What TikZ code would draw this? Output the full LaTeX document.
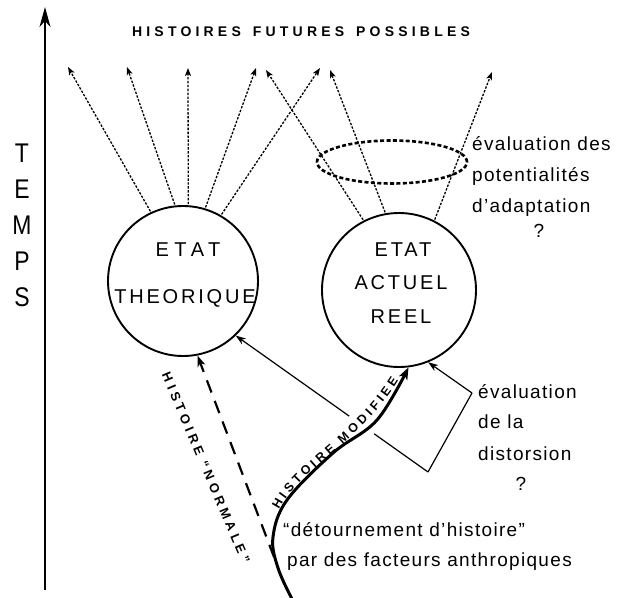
\documentclass[tikz,border=0pt]{standalone}
\usepackage{fontspec}
\setmainfont{Liberation Sans}
\newfontfamily\bodyfont[LetterSpace=7]{Liberation Sans}
\newfontfamily\capfont[LetterSpace=14]{Liberation Sans}
\newfontfamily\widecapfont[LetterSpace=28]{Liberation Sans}
\newfontfamily\titlefont[LetterSpace=30]{Liberation Sans}
\newfontfamily\pathfont[LetterSpace=30]{Liberation Sans}
\usetikzlibrary{arrows.meta,calc,shapes.geometric,decorations.text}

\begin{document}
\begin{tikzpicture}[x=1pt,y=-1pt,
  statecircle/.style={circle, draw, line width=1.9pt, inner sep=0pt},
  futurearrow/.style={line width=1.3pt, dash pattern=on 2.4pt off 1.5pt,
    shorten <=1pt, -{Stealth[length=8pt,width=6pt,inset=2pt]}},
  thinlink/.style={line width=1.2pt},
  thinarrow/.style={line width=1.2pt, -{Stealth[length=10pt,width=7pt,inset=3pt]}},
  normalpath/.style={line width=2.2pt, dash pattern=on 13pt off 9pt,
    -{Stealth[length=11pt,width=8pt,inset=3pt]}},
  modifpath/.style={line width=3pt, line cap=round,
    -{Stealth[length=12pt,width=9pt,inset=3pt]}},
  captext/.style={font=\capfont\fontsize{20}{20}\selectfont, inner sep=0pt},
  bodytext/.style={font=\bodyfont\fontsize{19}{19}\selectfont, inner sep=0pt, anchor=base west},
  bodyq/.style={font=\bodyfont\fontsize{19}{19}\selectfont, inner sep=0pt, anchor=base},
  titletext/.style={font=\titlefont\bfseries\fontsize{14}{14}\selectfont, inner sep=0pt}
]
\useasboundingbox[fill=white] (0,0) rectangle (625,598);

% time axis
\coordinate (axisbot) at (45,590);
\coordinate (axistop) at (45,7);
\draw[line width=1.5pt, -{Stealth[length=20pt,width=11pt,inset=6pt]}] (axisbot) -- (axistop);
\node[font=\fontsize{27}{36}\selectfont, align=center, xscale=0.85, inner sep=0pt] (temps) at (22,225) {T\\E\\M\\P\\S};

% title
\node[titletext] (hist) at (301,32) {HISTOIRES\hspace{12pt}FUTURES\hspace{12pt}POSSIBLES};

% the two states
\node[statecircle, minimum size=150pt] (theo) at (183,281) {};
\node[statecircle, minimum size=154pt] (reel) at (399,290) {};
\node[captext, font=\widecapfont\fontsize{20}{20}\selectfont] (et1) at (188,250) {ETAT};
\node[captext] (et2) at (185,298) {THEORIQUE};
\node[captext] (er1) at (403,250) {ETAT};
\node[captext] (er2) at (401,283) {ACTUEL};
\node[captext] (er3) at (401,317) {REEL};

% possible futures
\coordinate (f1) at (68,67);
\coordinate (f2) at (127,67);
\coordinate (f3) at (188,68);
\coordinate (f4a) at (256,68);
\coordinate (f4b) at (266,70);
\coordinate (f5a) at (320,68);
\coordinate (f5b) at (330,70);
\coordinate (f6) at (492,72);
\draw[futurearrow] (theo.115) -- (f1);
\draw[futurearrow] (theo.96) -- (f2);
\draw[futurearrow] (theo.86) -- (f3);
\draw[futurearrow] (theo.73) -- (f4a);
\draw[futurearrow] (theo.60) -- (f5a);
\draw[futurearrow] (reel.117) -- (f4b);
\draw[futurearrow] (reel.100) -- (f5b);
\draw[futurearrow] (reel.63) -- (f6);

% adaptation potential
\node[draw, ellipse, minimum width=150pt, minimum height=43pt, line width=2.6pt,
      dash pattern=on 4pt off 2.4pt] (pot) at (392,162) {};
\node[bodytext] (ev1) at (472,150) {évaluation des};
\node[bodytext] (ev2) at (472,181) {potentialités};
\node[bodytext] (ev3) at (472,212) {d’adaptation};
\node[bodyq] (ev4) at (539,237) {?};

% distortion
\coordinate (k1) at (428,472);
\coordinate (k2) at (472,393);
\draw[thinarrow] (k2) -- (reel.-68);
\draw[thinlink] (k2) -- (k1);
\coordinate (g1) at ($(k1)!0.28!(theo.-46)$);
\coordinate (g2) at ($(k1)!0.41!(theo.-46)$);
\draw[thinlink] (k1) -- (g1);
\draw[thinarrow] (g2) -- (theo.-46);
\node[bodytext] (ed1) at (478,398) {évaluation};
\node[bodytext] (ed2) at (478,428) {de la};
\node[bodytext] (ed3) at (478,460) {distorsion};
\node[bodyq] (ed4) at (521,490) {?};

% histories
\coordinate (src) at (292,599);
\coordinate (fork) at (274,557);
\draw[normalpath] (fork) -- (theo.-79);
\node[font=\pathfont\bfseries\fontsize{13}{13}\selectfont, rotate=-67, inner sep=0pt]
  (hnorm) at (206,468) {HISTOIRE “NORMALE”};
\draw[modifpath] plot[smooth, tension=0.6] coordinates
  {(src) (278,568) (273,537) (287,500) (333,453) (377,420) (reel.-83)};
% baseline for the label of the modified history, just above the curve
\coordinate (lblstart) at (279,510);
\coordinate (lblend) at (403,373);
\path[decorate, decoration={text along path, raise=0pt,
      text align={left},
      text={|\bfseries\fontsize{12.5}{12.5}\selectfont|H I S T O I R E}}]
  (lblstart) .. controls (301,467) and (366,439) .. (lblend);
\path[decorate, decoration={text along path, raise=0pt,
      text align={left, left indent=92pt},
      text={|\bfseries\fontsize{12.5}{12.5}\selectfont|M O D I F I E E}}]
  (lblstart) .. controls (301,467) and (366,439) .. (lblend);

\node[bodytext] (det1) at (283,536) {“détournement d’histoire”};
\node[bodytext] (det2) at (287,566) {par des facteurs anthropiques};
\end{tikzpicture}
\end{document}
